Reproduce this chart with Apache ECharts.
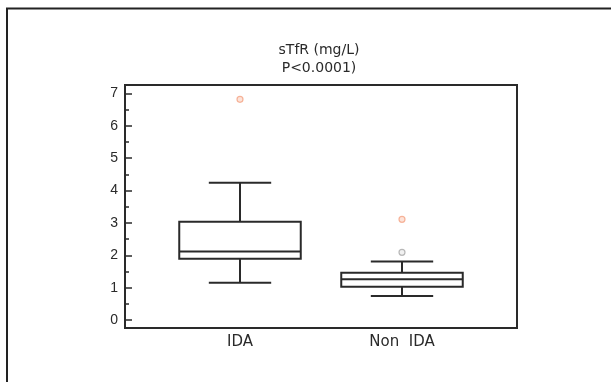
<!DOCTYPE html>
<html>
<head>
<meta charset="utf-8">
<script src="https://cdn.jsdelivr.net/npm/echarts@6/dist/echarts.min.js"></script>
<style>html,body{margin:0;padding:0;background:#fff}#c{width:611px;height:382px}</style>
</head>
<body>
<div id="c"></div>
<script>
// Data
var categories = ['IDA', 'Non  IDA'];
var whiskerMin = [1.15, 0.74];
var q1 = [1.89, 1.03];
var median = [2.12, 1.26];
var q3 = [3.04, 1.46];
var whiskerMax = [4.24, 1.81];
var outliersOrange = [[0, 6.82], [1, 3.11]];
var outliersGrey = [[1, 2.09]];
var yTicks = [0, 7, 1];
var titleText = 'sTfR (mg/L)\nP<0.0001)';

var boxData = categories.map(function (c, i) {
  return [i, whiskerMin[i], q1[i], median[i], q3[i], whiskerMax[i]];
});

var chart = echarts.init(document.getElementById('c'), null, {renderer: 'canvas'});
var lineColor = '#2a2a2a';
var font = 'Arial, "Liberation Sans", sans-serif';
var wideFont = '"DejaVu Sans", Arial, sans-serif';

chart.setOption({
  backgroundColor: '#fff',
  animation: false,
  title: {
    text: titleText,
    left: 314,
    top: 36,
    textAlign: 'center',
    textStyle: {fontSize: 14, fontWeight: 'normal', fontFamily: wideFont, color: '#2a2a2a', lineHeight: 18}
  },
  graphic: [{
    type: 'rect', silent: true,
    shape: {x: 7, y: 8.5, width: 800, height: 600},
    style: {fill: null, stroke: '#222', lineWidth: 2}
  }],
  grid: [
    {left: 125, top: 85, width: 392, height: 243, show: true, borderColor: lineColor, borderWidth: 2, backgroundColor: 'transparent'},
    {left: 159, top: 93.5, width: 324, height: 226.5}
  ],
  xAxis: [
    {gridIndex: 0, type: 'value', show: false, min: 0, max: 1},
    {gridIndex: 1, type: 'category', data: categories, boundaryGap: true,
     axisLine: {show: false}, axisTick: {show: false},
     axisLabel: {margin: 15, fontSize: 15, fontFamily: wideFont, color: '#2a2a2a'}}
  ],
  yAxis: [
    {gridIndex: 0, type: 'value', show: false, min: 0, max: 1},
    {gridIndex: 1, type: 'value', min: yTicks[0], max: yTicks[1], interval: yTicks[2], offset: 34,
     axisLine: {show: false},
     axisTick: {show: true, inside: true, length: 7, lineStyle: {color: lineColor, width: 1.5}},
     minorTick: {show: true, splitNumber: 2, length: 4, lineStyle: {color: lineColor, width: 1.5}},
     splitLine: {show: false},
     axisLabel: {margin: 7, fontSize: 14, fontFamily: font, color: '#2a2a2a'}}
  ],
  series: [
    {
      type: 'custom',
      xAxisIndex: 1, yAxisIndex: 1,
      data: boxData,
      encode: {x: 0, y: [1, 2, 3, 4, 5]},
      renderItem: function (params, api) {
        var x = api.value(0);
        var band = api.size([1, 0])[0];
        var bw = band * 0.75, cw = band * 0.385;
        var pMin = api.coord([x, api.value(1)]);
        var pQ1 = api.coord([x, api.value(2)]);
        var pMed = api.coord([x, api.value(3)]);
        var pQ3 = api.coord([x, api.value(4)]);
        var pMax = api.coord([x, api.value(5)]);
        var cx = pMin[0];
        var st = {stroke: lineColor, lineWidth: 2, fill: null};
        function line(x1, y1, x2, y2) {
          return {type: 'line', shape: {x1: x1, y1: y1, x2: x2, y2: y2}, style: st};
        }
        return {
          type: 'group',
          children: [
            {type: 'rect', shape: {x: cx - bw / 2, y: pQ3[1], width: bw, height: pQ1[1] - pQ3[1]}, style: st},
            line(cx - bw / 2, pMed[1], cx + bw / 2, pMed[1]),
            line(cx, pQ3[1], cx, pMax[1]),
            line(cx, pQ1[1], cx, pMin[1]),
            line(cx - cw / 2, pMax[1], cx + cw / 2, pMax[1]),
            line(cx - cw / 2, pMin[1], cx + cw / 2, pMin[1])
          ]
        };
      }
    },
    {
      type: 'scatter', xAxisIndex: 1, yAxisIndex: 1,
      data: outliersOrange, symbol: 'circle', symbolSize: 6,
      itemStyle: {color: '#fcdccf', borderColor: '#f4a383', borderWidth: 1.2}
    },
    {
      type: 'scatter', xAxisIndex: 1, yAxisIndex: 1,
      data: outliersGrey, symbol: 'circle', symbolSize: 6,
      itemStyle: {color: '#eeeeee', borderColor: '#a8a8a8', borderWidth: 1.2}
    }
  ]
});
</script>
</body>
</html>
